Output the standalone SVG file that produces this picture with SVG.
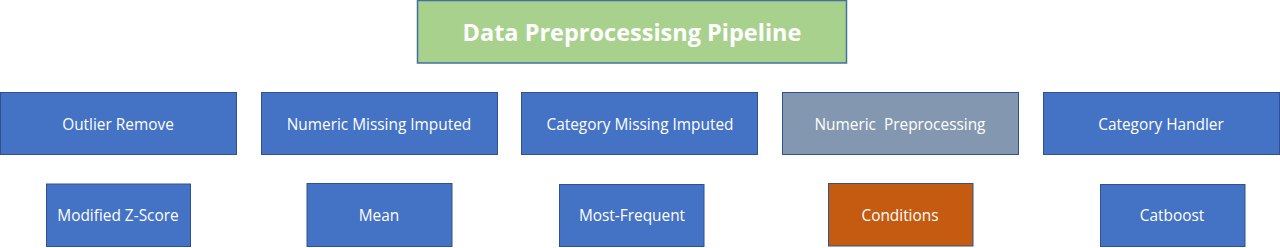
<svg xmlns="http://www.w3.org/2000/svg" width="1280" height="248" viewBox="0 0 1280 248">
<style>
.box{stroke:#2f528f;stroke-width:1}
.blue{fill:#4472c4}
.grey{fill:#8497b0}
.orange{fill:#c55a11}
.green{fill:#a9d18e;stroke:#41719c;stroke-width:1.5}
text{font-family:"Open Sans","Noto Sans","DejaVu Sans",sans-serif;fill:#ffffff;text-anchor:middle;dominant-baseline:central}
.lbl{font-size:15.4px}
.title{font-size:23.5px;font-weight:bold}
</style>
<rect width="1280" height="248" fill="#ffffff"/>
<g id="title">
<rect class="green" x="417.5" y="0.5" width="429" height="62.5"/>
<text class="title" x="632" y="32">Data Preprocessisng Pipeline</text>
</g>
<g id="outlier-remove">
<rect class="box blue" x="0.5" y="92.5" width="236" height="62"/>
<text class="lbl" x="118" y="124">Outlier Remove</text>
</g>
<g id="numeric-missing">
<rect class="box blue" x="261.5" y="92.5" width="236" height="62"/>
<text class="lbl" x="379" y="124">Numeric Missing Imputed</text>
</g>
<g id="category-missing">
<rect class="box blue" x="521.5" y="92.5" width="236" height="62"/>
<text class="lbl" x="640" y="124">Category Missing Imputed</text>
</g>
<g id="numeric-preprocessing">
<rect class="box grey" x="782.5" y="92.5" width="236" height="62"/>
<text class="lbl" x="900" y="124" xml:space="preserve">Numeric  Preprocessing</text>
</g>
<g id="category-handler">
<rect class="box blue" x="1043.5" y="92.5" width="236" height="62"/>
<text class="lbl" x="1161" y="124">Category Handler</text>
</g>
<g id="modified-z-score">
<rect class="box blue" x="46.5" y="184" width="144" height="62.5"/>
<text class="lbl" x="118" y="215">Modified Z-Score</text>
</g>
<g id="mean">
<rect class="box blue" x="307" y="183.5" width="145" height="63"/>
<text class="lbl" x="379" y="215">Mean</text>
</g>
<g id="most-frequent">
<rect class="box blue" x="559.5" y="184.5" width="144.5" height="62"/>
<text class="lbl" x="632" y="215">Most-Frequent</text>
</g>
<g id="conditions">
<rect class="box orange" x="828.5" y="183.5" width="144.5" height="62.5"/>
<text class="lbl" x="900" y="215">Conditions</text>
</g>
<g id="catboost">
<rect class="box blue" x="1100.5" y="184.5" width="144.5" height="62"/>
<text class="lbl" x="1172" y="215">Catboost</text>
</g>
<g id="connectors"></g>
</svg>
